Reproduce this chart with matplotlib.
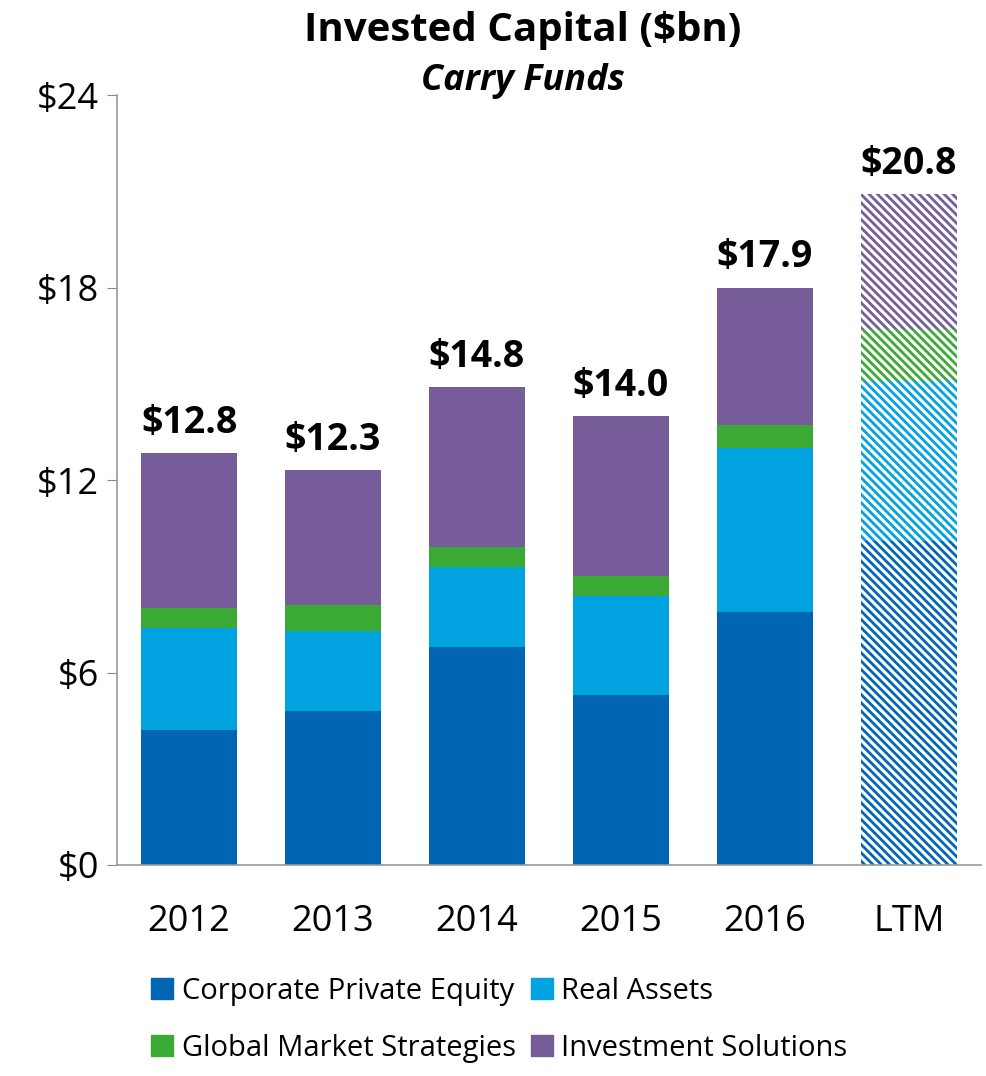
import numpy as np
import matplotlib.pyplot as plt
from matplotlib.patches import Patch

plt.rcParams['font.family'] = ['Open Sans', 'DejaVu Sans']
plt.rcParams['hatch.linewidth'] = 2.0

years = ['2012', '2013', '2014', '2015', '2016', 'LTM']
corporate_pe = [4.2, 4.8, 6.8, 5.3, 7.9, 10.1]
real_assets = [3.2, 2.5, 2.5, 3.1, 5.1, 5.0]
global_market = [0.6, 0.8, 0.6, 0.6, 0.7, 1.6]
invest_solutions = [4.85, 4.2, 5.0, 5.0, 4.3, 4.2]
totals = ['$12.8', '$12.3', '$14.8', '$14.0', '$17.9', '$20.8']

series = [
    ('Corporate Private Equity', corporate_pe, '#0066B3'),
    ('Real Assets', real_assets, '#00A3E0'),
    ('Global Market Strategies', global_market, '#3AAA35'),
    ('Investment Solutions', invest_solutions, '#765C98'),
]

fig = plt.figure(figsize=(9.86, 10.76), dpi=100)
ax = fig.add_axes([0.1187, 0.1961, 0.876, 0.7156])

x = np.arange(len(years))
bottom = np.zeros(len(years))
for name, vals, color in series:
    vals = np.array(vals)
    # solid bars for the years, hatched bar for LTM
    ax.bar(x[:-1], vals[:-1], bottom=bottom[:-1], width=0.667, color=color, linewidth=0)
    ax.bar(x[-1:], vals[-1:], bottom=bottom[-1:], width=0.667, facecolor='white',
           edgecolor=color, hatch='\\\\\\\\', linewidth=0)
    bottom += vals

for i, label in enumerate(totals):
    ax.text(x[i], bottom[i] + 0.35, label, ha='center', va='bottom',
            fontsize=27, fontweight='bold')

ax.set_xlim(-0.5, len(years) - 0.5)
ax.set_ylim(0, 24)
ax.set_yticks([0, 6, 12, 18, 24])
ax.set_yticklabels(['$0', '$6', '$12', '$18', '$24'])
ax.set_xticks(x)
ax.set_xticklabels(years)
ax.tick_params(axis='y', labelsize=26, length=7, color='#888888', pad=6)
ax.tick_params(axis='x', labelsize=26, length=0, pad=28)
for s in ['top', 'right']:
    ax.spines[s].set_visible(False)
for s in ['left', 'bottom']:
    ax.spines[s].set_color('#999999')
    ax.spines[s].set_linewidth(1.2)

fig.text(0.53, 0.972, 'Invested Capital ($bn)', ha='center', va='center',
         fontsize=29, fontweight='bold')
fig.text(0.53, 0.925, 'Carry Funds', ha='center', va='center',
         fontsize=26, fontweight='bold', style='italic')

handles = [Patch(color=c, label=n) for n, _, c in series]
# order so rows read CPE / RA then GMS / IS
order = [0, 2, 1, 3]
fig.legend([handles[i] for i in order], [series[i][0] for i in order],
           ncol=2, loc='lower left', bbox_to_anchor=(0.127, -0.012),
           frameon=False, fontsize=21, handlelength=0.75, handleheight=0.75,
           handletextpad=0.3, columnspacing=0.5, labelspacing=0.95)

fig.savefig('out.png', dpi=100)
